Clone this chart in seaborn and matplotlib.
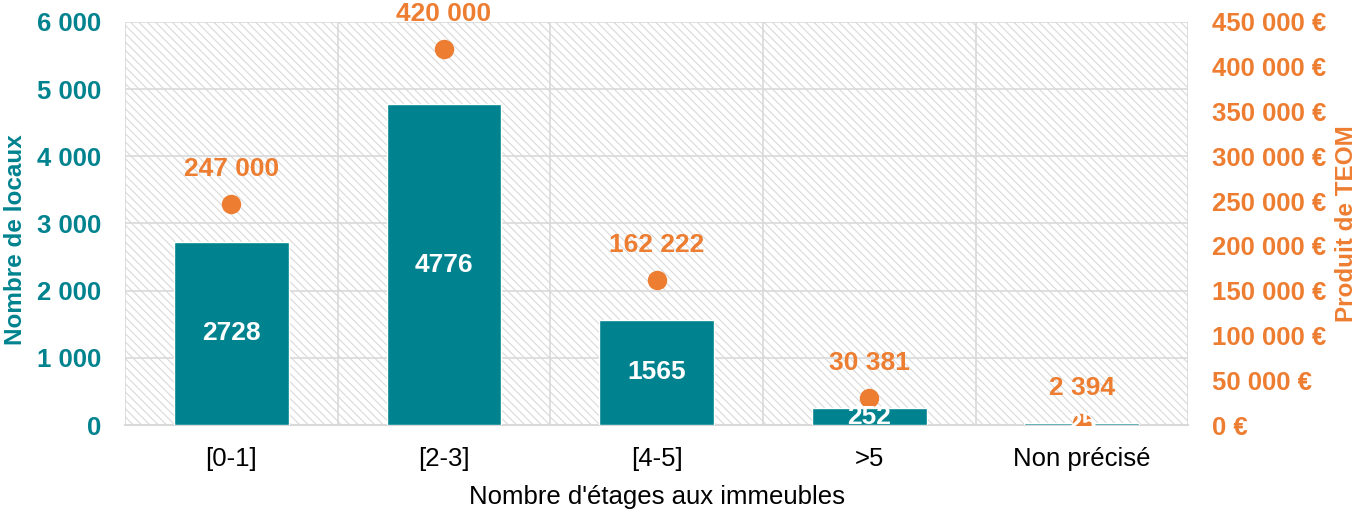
import matplotlib
matplotlib.use("Agg")
import matplotlib.pyplot as plt
import matplotlib.ticker as mticker
import pandas as pd
import seaborn as sns

categories = ["[0-1]", "[2-3]", "[4-5]", ">5", "Non précisé"]
nb_locaux = [2728, 4776, 1565, 252, 25]
produit_teom = [247000, 420000, 162222, 30381, 2394]

TEAL = "#00838f"
ORANGE = "#ed7d31"
GRID = "#d9d9d9"

df = pd.DataFrame({"etages": categories, "locaux": nb_locaux, "teom": produit_teom})

sns.set_theme(style="white")
plt.rcParams["font.family"] = ["Liberation Sans", "DejaVu Sans"]
plt.rcParams["hatch.linewidth"] = 0.8

fig, ax = plt.subplots(figsize=(13.58, 5.09), dpi=100)
fig.subplots_adjust(left=0.092, right=0.875, top=0.957, bottom=0.165)

# hatched plot background
ax.patch.set_facecolor("white")
ax.patch.set_hatch("\\\\\\\\")
ax.patch.set_edgecolor(GRID)
ax.patch.set_linewidth(0)

sns.barplot(data=df, x="etages", y="locaux", color=TEAL, width=0.54,
            saturation=1, ax=ax, zorder=3)

ax.set_ylim(0, 6000)
ax.set_xlim(-0.5, 4.5)
ax.yaxis.set_major_locator(mticker.MultipleLocator(1000))
ax.yaxis.set_major_formatter(mticker.FuncFormatter(lambda v, p: f"{int(v):,}".replace(",", " ")))
ax.set_xticks([i + 0.5 for i in range(-1, 5)], minor=True)
ax.grid(axis="y", color=GRID, linewidth=1.2, zorder=0)
ax.grid(axis="x", which="minor", color=GRID, linewidth=1.2, zorder=0)
ax.set_axisbelow(True)
for s in ["top", "right", "left"]:
    ax.spines[s].set_visible(False)
ax.spines["bottom"].set_color(GRID)
ax.spines["bottom"].set_linewidth(1.5)
ax.tick_params(axis="both", which="both", length=0)
ax.tick_params(axis="y", labelcolor=TEAL, labelsize=18.5, pad=17)
ax.tick_params(axis="x", labelsize=18.5, labelcolor="black", pad=16)
for t in ax.get_yticklabels():
    t.set_fontweight("bold")
ax.set_xlabel("Nombre d'étages aux immeubles", fontsize=18.5, color="black", labelpad=10)
ax.set_ylabel("Nombre de locaux", fontsize=17.5, color=TEAL, fontweight="bold")
ax.yaxis.set_label_coords(-0.092, 0.46)

ax2 = ax.twinx()
sns.stripplot(data=df, x="etages", y="teom", jitter=False, color=ORANGE,
              size=14, linewidth=0, ax=ax2, zorder=3)
ax2.set_ylim(0, 450000)
ax2.set_xlim(-0.5, 4.5)
ax2.yaxis.set_major_locator(mticker.MultipleLocator(50000))
ax2.yaxis.set_major_formatter(mticker.FuncFormatter(lambda v, p: f"{int(v):,} €".replace(",", " ")))
for s in ax2.spines.values():
    s.set_visible(False)
ax2.tick_params(axis="y", length=0, labelcolor=ORANGE, labelsize=18.5, pad=17)
for t in ax2.get_yticklabels():
    t.set_fontweight("bold")
ax2.set_ylabel("Produit de TEOM", fontsize=17.5, color=ORANGE, fontweight="bold", labelpad=6)
ax2.set_xlabel("")

# bar labels (drawn above the markers)
for i, v in enumerate(nb_locaux):
    ax2.text(i, v / 2, str(v), transform=ax.transData, ha="center", va="center",
             color="white", fontsize=19, fontweight="bold", zorder=5)

# point labels
for i, v in enumerate(produit_teom):
    ax2.annotate(f"{v:,}".replace(",", " "), (i, v), xytext=(0, 25),
                 textcoords="offset points", ha="center", va="center",
                 color=ORANGE, fontsize=19, fontweight="bold",
                 annotation_clip=False, zorder=5)

fig.savefig("out.png", dpi=100)
